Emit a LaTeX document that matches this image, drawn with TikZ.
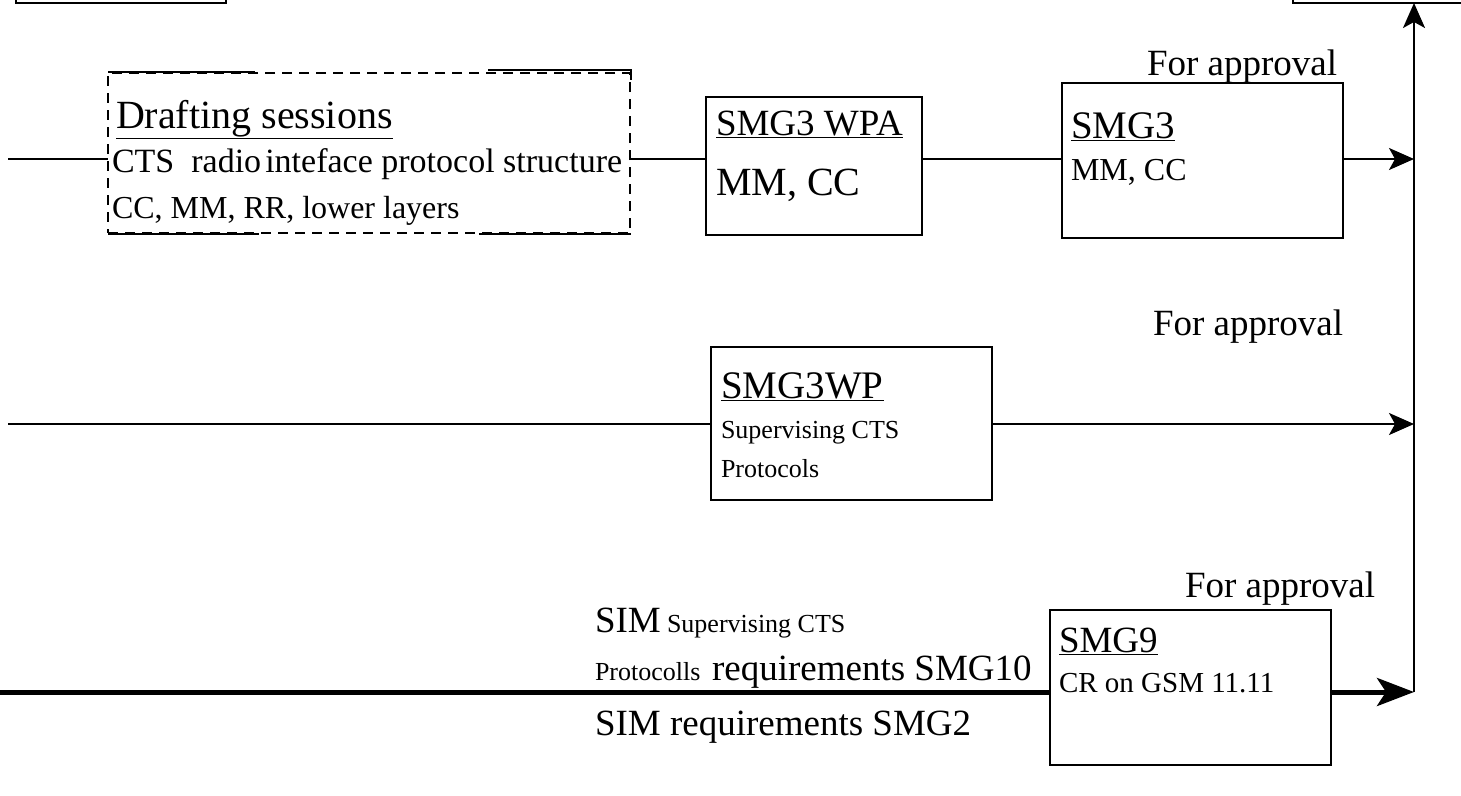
\documentclass[tikz,border=0pt]{standalone}
\usepackage{fontspec}
\setmainfont{Liberation Serif}
\usetikzlibrary{arrows.meta}
\begin{document}
\begin{tikzpicture}[x=1pt,y=-1pt,
  box/.style={draw, line width=2.4pt, inner sep=0pt, outer sep=0pt, anchor=north west},
  dbox/.style={box, dash pattern=on 10pt off 7pt, line width=2.8pt},
  txt/.style={anchor=base west, inner sep=0pt, outer sep=0pt},
  fbig/.style={font=\fontsize{37}{44}\selectfont},
  fhead/.style={font=\fontsize{39}{46}\selectfont},
  fsmall/.style={font=\fontsize{26}{31}\selectfont},
  conn/.style={line width=2pt},
  arr/.style={conn, -{Stealth[length=25pt,width=22pt,inset=6pt]}},
  thickconn/.style={line width=5pt},
  thickarr/.style={thickconn, -{Stealth[length=37pt,width=28pt,inset=9pt]}},
  solidseg/.style={line width=1.4pt},
]
\useasboundingbox (0,0) rectangle (1461,795);

% partial boxes at the top edge
\node[box, anchor=south west, minimum width=210pt, minimum height=40pt] (tl) at (16,3) {};
\node[box, anchor=south west, minimum width=220pt, minimum height=40pt] (tr) at (1293,3) {};

% main boxes
\node[dbox, minimum width=522pt, minimum height=160pt] (draft) at (108,73) {};
\draw[solidseg] (108,72) -- (255,72);
\draw[solidseg] (488,70) -- (631,70) -- (631,80);
\draw[solidseg] (108,234) -- (259,234);
\draw[solidseg] (479,234) -- (631,234);

\node[box, minimum width=216pt, minimum height=138pt] (wpa) at (706,97) {};
\node[box, minimum width=281pt, minimum height=155pt] (smg3) at (1062,83) {};
\node[box, minimum width=281pt, minimum height=153pt] (wp) at (711,347) {};
\node[box, minimum width=281pt, minimum height=155pt] (smg9) at (1050,610) {};

% texts in the boxes
\node[txt, font=\fontsize{40}{46}\selectfont] (t1) at (116,128) {\underline{Drafting sessions}};
\node[txt, font=\fontsize{34}{40}\selectfont] (t2) at (112,172) {CTS\ \ radio\hspace{0.12em}inteface protocol structure};
\node[txt, font=\fontsize{32}{38}\selectfont] (t3) at (112,218) {CC, MM, RR, lower layers};

\node[txt, fbig] (t4) at (716,135) {\underline{SMG3 WPA}};
\node[txt, font=\fontsize{40}{46}\selectfont] (t5) at (716,195) {MM, CC};

\node[txt, fhead] (t6) at (1071,138) {\underline{SMG3}};
\node[txt, font=\fontsize{32}{38}\selectfont] (t7) at (1071,180) {MM, CC};

\node[txt, fhead] (t8) at (721,398) {\underline{SMG3WP}};
\node[txt, fsmall] (t9) at (721,438) {Supervising CTS};
\node[txt, fsmall] (t10) at (721,477) {Protocols};

\node[txt, fbig] (t11) at (1059,652) {\underline{SMG9}};
\node[txt, font=\fontsize{29}{34}\selectfont] (t12) at (1059,692) {CR on GSM 11.11};

% For approval labels
\node[txt, fbig] (fa1) at (1147,75) {For approval};
\node[txt, fbig] (fa2) at (1153,335) {For approval};
\node[txt, fbig] (fa3) at (1185,597) {For approval};

% labels on the thick line
\node[txt, fbig] (s1) at (595,632) {SIM};
\node[txt, fsmall] (s2) at (667,632) {Supervising CTS};
\node[txt, fsmall] (s3) at (595,680) {Protocolls};
\node[txt, fbig] (s4) at (712,680) {requirements SMG10};
\node[txt, fbig] (s5) at (595,735) {SIM requirements SMG2};

% connector coordinates
\coordinate (inA) at (8,159);
\coordinate (inB) at (8,424);
\coordinate (inC) at (0,692);
\coordinate (j1) at (1414,159);
\coordinate (j2) at (1414,424);
\coordinate (j3) at (1414,692);

\draw[conn] (inA) -- (draft.west |- inA);
\draw[conn] (draft.east |- inA) -- (wpa.west |- inA);
\draw[conn] (wpa.east |- inA) -- (smg3.west |- inA);
\draw[arr] (smg3.east |- inA) -- (j1);
\draw[conn] (inB) -- (wp.west |- inB);
\draw[arr] (wp.east |- inB) -- (j2);
\draw[thickconn] (inC) -- (smg9.west |- inC);
\draw[thickarr] (smg9.east |- inC) -- (j3);
\draw[arr] (j3) -- (tr.south -| j3);
\end{tikzpicture}
\end{document}
